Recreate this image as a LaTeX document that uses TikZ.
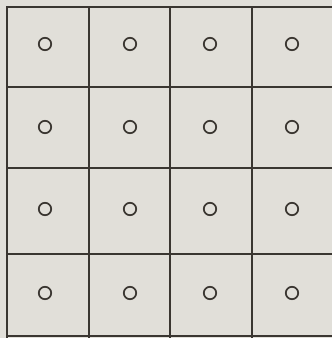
\documentclass[tikz,border=0pt]{standalone}
\definecolor{paper}{HTML}{E1DFD9}
\definecolor{ink}{HTML}{3A3631}
\tikzset{
  gridline/.style={draw=ink,line width=2pt},
  ring/.style={draw=ink,line width=1.7pt}
}
\begin{document}
\begin{tikzpicture}[x=1pt,y=-1pt]
% sheet
\fill[paper] (0,0) rectangle (332,338);
\useasboundingbox (0,0) rectangle (332,338);
% grid of cells, open at the right
\foreach \y in {7,87,168,254,336}
  \draw[gridline] (6,\y) -- (332,\y);
\foreach \x in {7,89,170,252}
  \draw[gridline] (\x,6) -- (\x,338);
% one small ring in each cell
\foreach \x in {45,130,210,292}
  \foreach \y in {44,127,209,293}
    \draw[ring] (\x,\y) circle (6.2);
\end{tikzpicture}
\end{document}
